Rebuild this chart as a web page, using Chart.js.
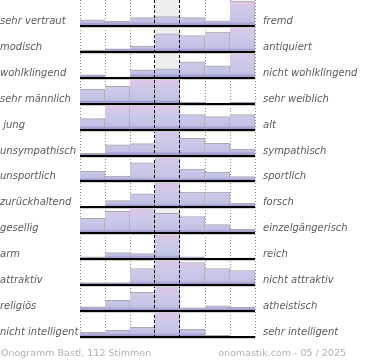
<!DOCTYPE html>
<html>
<head>
<meta charset="utf-8">
<script src="https://cdn.jsdelivr.net/npm/chart.js@4.4.1/dist/chart.umd.min.js"></script>
<style>
html,body{margin:0;padding:0;background:#fff;}
canvas{display:block;}
</style>
</head>
<body>
<canvas id="c" width="370" height="360"></canvas>
<script>
const categories = ['1','2','3','4','5','6','7'];
const leftLabels = ['sehr vertraut','modisch','wohlklingend','sehr männlich',' jung','unsympathisch','unsportlich','zurückhaltend','gesellig','arm','attraktiv','religiös','nicht intelligent'];
const rightLabels = ['fremd','antiquiert','nicht wohlklingend','sehr weiblich','alt','sympathisch','sportlich','forsch','einzelgängerisch','reich','nicht attraktiv','atheistisch','sehr intelligent'];

const rowVertraut     = [6, 4.6, 8.3, 9.3, 8.3, 5, 25];
const rowModisch      = [1.7, 3, 5.7, 18, 16.3, 19.7, 25];
const rowWohlklingend = [3, 0, 8, 9, 16, 12, 25];
const rowMaennlich    = [14.3, 17.3, 25, 25, 1.5, 0, 1.5];
const rowJung         = [11, 25, 25, 25, 15, 13, 15];
const rowSympathisch  = [2.3, 10.7, 12, 25, 17.3, 12.3, 6.3];
const rowSportlich    = [10.4, 5.4, 18.6, 25, 12.4, 9.4, 5];
const rowForsch       = [0, 6.7, 13.7, 25, 15.3, 15.3, 4.3];
const rowGesellig     = [15, 22, 25, 20, 16.7, 8.7, 4];
const rowReich        = [2.3, 6.7, 5.7, 25, 2.3, 0, 1.3];
const rowAttraktiv    = [2.5, 2.5, 16.7, 25, 22.7, 16.7, 14.7];
const rowReligioes    = [4.3, 10.7, 18.7, 25, 3.3, 5.3, 4];
const rowIntelligent  = [4.7, 6.7, 9.7, 25, 7.7, 1.7, 0];

const footerLeft = 'Onogramm Bastl, 112 Stimmen';
const footerRight = 'onomastik.com - 05 / 2025';

const rows = [rowVertraut,rowModisch,rowWohlklingend,rowMaennlich,rowJung,rowSympathisch,rowSportlich,rowForsch,rowGesellig,rowReich,rowAttraktiv,rowReligioes,rowIntelligent];
const ROW = 26, CAP = 25, N = rows.length;
const baseOf = i => (N - 1 - i) * ROW;

const gradCache = {};
function rowGradient(ctx) {
  const chart = ctx.chart;
  if (!chart.chartArea) return '#c6c8ea';
  const i = ctx.datasetIndex;
  if (gradCache[i]) return gradCache[i];
  const ys = chart.scales.y;
  const yb = ys.getPixelForValue(baseOf(i));
  const yt = ys.getPixelForValue(baseOf(i) + CAP);
  const g = chart.ctx.createLinearGradient(0, yt, 0, yb);
  g.addColorStop(0, '#e0c6e6');
  g.addColorStop(0.45, '#cac9ea');
  g.addColorStop(0.84, '#bfc2e5');
  g.addColorStop(0.9, '#aba4d5');
  g.addColorStop(1, '#9c90c8');
  gradCache[i] = g;
  return g;
}

const datasets = rows.map((vals, i) => ({
  label: leftLabels[i],
  data: vals.map(v => v > 0 ? [baseOf(i), baseOf(i) + Math.min(v, CAP)] : null),
  backgroundColor: rowGradient,
  borderColor: '#a9a9a9',
  borderWidth: {top: 1, right: 1, left: 0, bottom: 0},
  borderSkipped: false,
  grouped: false,
  barPercentage: 1,
  categoryPercentage: 1
}));

function colEdges(chart) {
  const xs = chart.scales.x;
  const w = xs.getPixelForTick(1) - xs.getPixelForTick(0);
  const e = [];
  for (let k = 0; k < categories.length; k++) e.push(xs.getPixelForTick(k) - w / 2);
  e.push(xs.getPixelForTick(categories.length - 1) + w / 2);
  return e;
}

const decor = {
  id: 'decor',
  beforeDatasetsDraw(chart) {
    const {ctx, chartArea: a} = chart;
    const e = colEdges(chart);
    ctx.save();
    ctx.fillStyle = '#eeeeee';
    ctx.fillRect(e[3], a.top, e[4] - e[3], a.bottom - a.top);
    ctx.strokeStyle = '#8a8a8a';
    ctx.lineWidth = 1;
    ctx.setLineDash([1, 2]);
    [0, 1, 2, 5, 6, 7].forEach(k => {
      const x = Math.round(e[k]) + 0.5;
      ctx.beginPath(); ctx.moveTo(x, a.top); ctx.lineTo(x, a.bottom); ctx.stroke();
    });
    ctx.restore();
  },
  afterDatasetsDraw(chart) {
    const {ctx, chartArea: a} = chart;
    const e = colEdges(chart);
    const ys = chart.scales.y;
    ctx.save();
    ctx.strokeStyle = '#000';
    ctx.lineWidth = 1;
    ctx.setLineDash([3, 2]);
    [3, 4].forEach(k => {
      const x = Math.round(e[k]) - 0.5;
      ctx.beginPath(); ctx.moveTo(x, a.top); ctx.lineTo(x, a.bottom); ctx.stroke();
    });
    ctx.setLineDash([]);
    for (let i = 0; i < N; i++) {
      const y = Math.round(ys.getPixelForValue(baseOf(i)));
      ctx.fillStyle = '#cfcfcf';
      ctx.fillRect(e[0], y + 1, e[7] - e[0], 1);
      ctx.fillStyle = '#000';
      ctx.fillRect(e[0], y - 1, e[7] - e[0], 2);
    }
    ctx.font = 'italic 10px "DejaVu Sans"';
    ctx.fillStyle = '#5a5a5a';
    ctx.textBaseline = 'alphabetic';
    for (let i = 0; i < N; i++) {
      const y = ys.getPixelForValue(baseOf(i)) - 2;
      ctx.textAlign = 'left';
      ctx.fillText(leftLabels[i], 0, y);
      ctx.fillText(rightLabels[i], e[7] + 8, y);
    }
    ctx.font = '9.5px "DejaVu Sans"';
    ctx.fillStyle = '#b0b0b0';
    ctx.textAlign = 'left';
    ctx.fillText(footerLeft, 1, 356);
    ctx.textAlign = 'right';
    ctx.fillText(footerRight, 346, 356);
    ctx.restore();
  }
};

new Chart(document.getElementById('c'), {
  type: 'bar',
  data: {labels: categories, datasets},
  options: {
    responsive: false,
    animation: false,
    layout: {padding: {left: 80, right: 115, top: 0, bottom: 23}},
    plugins: {legend: {display: false}, title: {display: false}, tooltip: {enabled: false}},
    scales: {
      x: {display: false, offset: true},
      y: {display: false, min: 0, max: N * ROW}
    }
  },
  plugins: [decor]
});
</script>
</body>
</html>
